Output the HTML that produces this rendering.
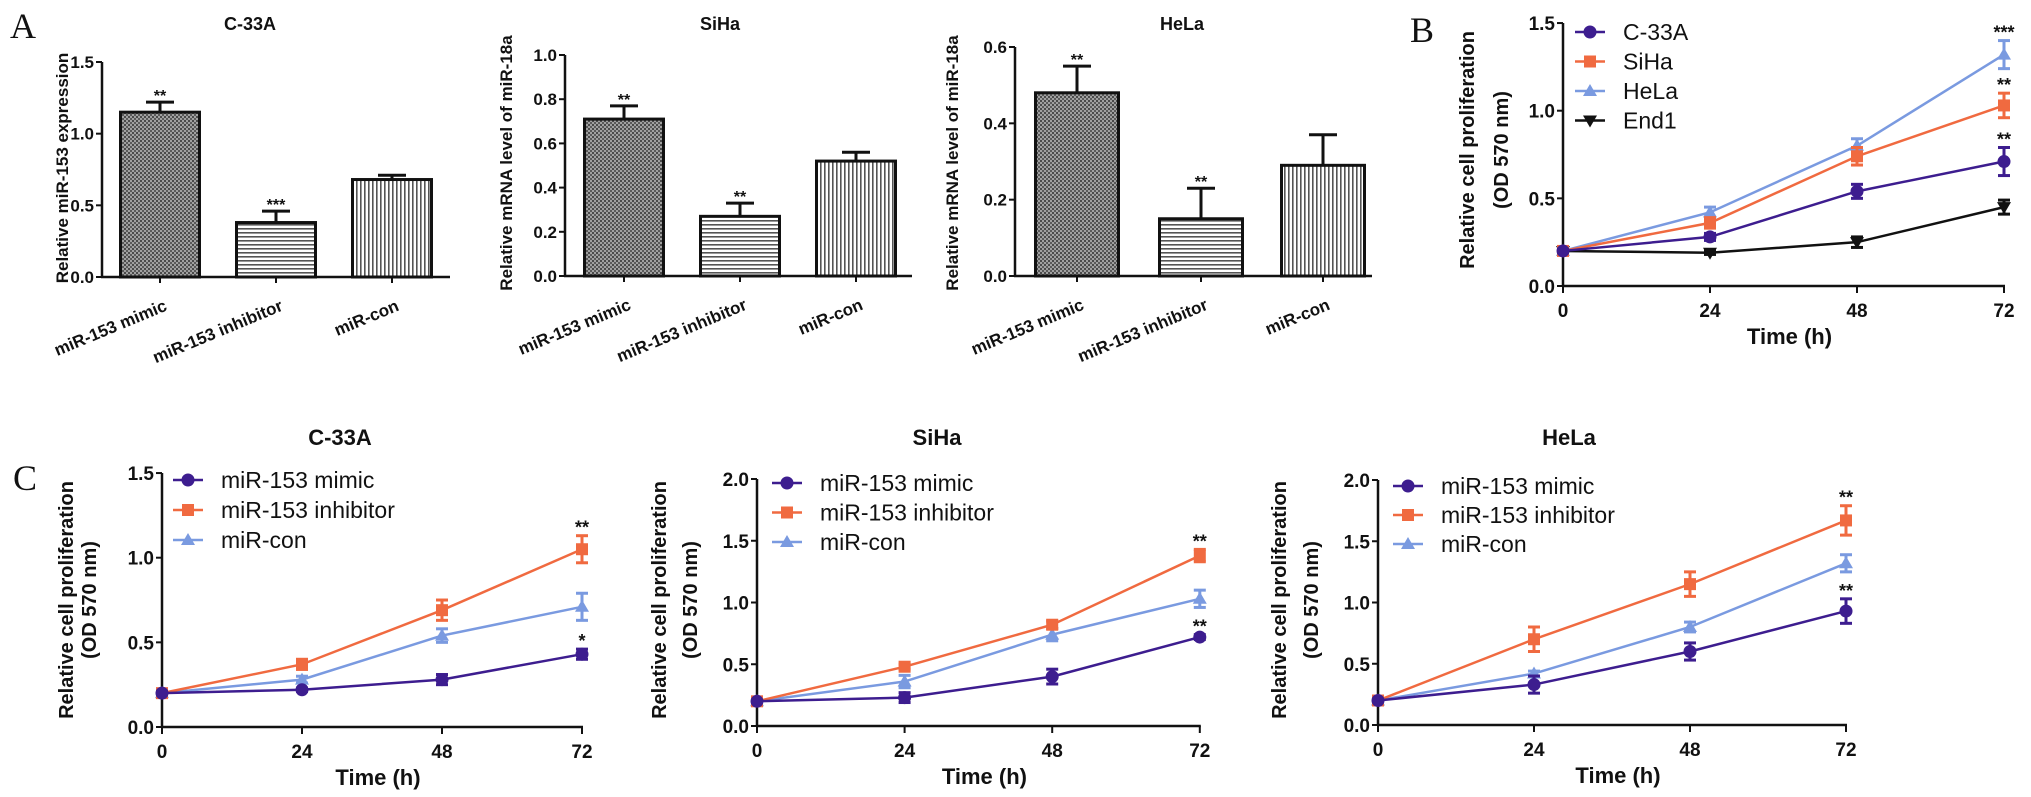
<!DOCTYPE html>
<html><head><meta charset="utf-8"><style>
html,body{margin:0;padding:0;background:#fff;}
svg{display:block;font-family:"Liberation Sans",Arial,sans-serif;}
</style></head><body>
<svg id="fig" width="2031" height="797" viewBox="0 0 2031 797" xmlns="http://www.w3.org/2000/svg">
<defs>
<pattern id="pDots" width="4" height="4" patternUnits="userSpaceOnUse"><rect width="4" height="4" fill="#a0a0a0"/><rect width="2" height="2" fill="#4a4a4a"/><rect x="2" y="2" width="2" height="2" fill="#5a5a5a"/></pattern>
<pattern id="pH" width="4" height="4" patternUnits="userSpaceOnUse"><rect width="4" height="4" fill="#fff"/><rect y="0" width="4" height="1.6" fill="#555"/></pattern>
<pattern id="pV" width="4" height="4" patternUnits="userSpaceOnUse"><rect width="4" height="4" fill="#fff"/><rect x="0" width="1.6" height="4" fill="#555"/></pattern>
</defs>
</svg>
<script>
// ---------- Panel A data ----------
const barCategories = ["miR-153 mimic", "miR-153 inhibitor", "miR-con"];
const aC33AValues = [1.15, 0.38, 0.68];
const aC33AErrors = [0.07, 0.08, 0.03];
const aC33AStars = ["**", "***", ""];
const aSiHaValues = [0.71, 0.27, 0.52];
const aSiHaErrors = [0.06, 0.06, 0.04];
const aSiHaStars = ["**", "**", ""];
const aHeLaValues = [0.48, 0.15, 0.29];
const aHeLaErrors = [0.07, 0.08, 0.08];
const aHeLaStars = ["**", "**", ""];
const aC33ATicks = [0, 0.5, 1.0, 1.5];
const aSiHaTicks = [0, 0.2, 0.4, 0.6, 0.8, 1.0];
const aHeLaTicks = [0, 0.2, 0.4, 0.6];
// ---------- Panel B data ----------
const timePoints = [0, 24, 48, 72];
const bC33A = [0.2, 0.28, 0.54, 0.71];
const bC33AErr = [0.01, 0.02, 0.04, 0.08];
const bSiHa = [0.2, 0.36, 0.74, 1.03];
const bSiHaErr = [0.01, 0.03, 0.05, 0.07];
const bHeLa = [0.2, 0.42, 0.80, 1.32];
const bHeLaErr = [0.01, 0.03, 0.04, 0.08];
const bEnd1 = [0.2, 0.19, 0.25, 0.45];
const bEnd1Err = [0.01, 0.01, 0.03, 0.04];
const bTicks = [0, 0.5, 1.0, 1.5];
// ---------- Panel C data ----------
const cC33AMimic = [0.2, 0.22, 0.28, 0.43];
const cC33AMimicErr = [0.01, 0.01, 0.03, 0.03];
const cC33AInhib = [0.2, 0.37, 0.69, 1.05];
const cC33AInhibErr = [0.01, 0.03, 0.06, 0.08];
const cC33ACon = [0.2, 0.28, 0.54, 0.71];
const cC33AConErr = [0.01, 0.02, 0.04, 0.08];
const cSiHaMimic = [0.2, 0.23, 0.40, 0.72];
const cSiHaMimicErr = [0.01, 0.04, 0.06, 0.02];
const cSiHaInhib = [0.2, 0.48, 0.82, 1.38];
const cSiHaInhibErr = [0.01, 0.02, 0.03, 0.05];
const cSiHaCon = [0.2, 0.36, 0.74, 1.03];
const cSiHaConErr = [0.01, 0.05, 0.05, 0.07];
const cHeLaMimic = [0.2, 0.33, 0.60, 0.93];
const cHeLaMimicErr = [0.01, 0.07, 0.07, 0.10];
const cHeLaInhib = [0.2, 0.70, 1.15, 1.67];
const cHeLaInhibErr = [0.01, 0.10, 0.10, 0.12];
const cHeLaCon = [0.2, 0.42, 0.80, 1.32];
const cHeLaConErr = [0.01, 0.02, 0.04, 0.07];
const cTicks15 = [0, 0.5, 1.0, 1.5];
const cTicks20 = [0, 0.5, 1.0, 1.5, 2.0];

const NS = "http://www.w3.org/2000/svg";
const svg = document.getElementById("fig");
const FONT = '"Liberation Sans", Arial, sans-serif';

function mk(parent, tag, attrs, name, inter) {
  const el = document.createElementNS(NS, tag);
  for (const k in attrs) el.setAttribute(k, attrs[k]);
  
  
  parent.appendChild(el);
  return el;
}
function txt(parent, x, y, s, size, opts, name) {
  const o = Object.assign({x: x, y: y, "font-size": size, "font-family": FONT, fill: "#111"}, opts || {});
  const t = mk(parent, "text", o, name, false);
  t.textContent = s;
  return t;
}

// panel letters
txt(svg, 10, 38, "A", 36, {"font-family": '"Liberation Serif", serif'}, "panel-label-a");
txt(svg, 1410, 42, "B", 36, {"font-family": '"Liberation Serif", serif'}, "panel-label-b");
txt(svg, 13, 490, "C", 36, {"font-family": '"Liberation Serif", serif'}, "panel-label-c");

function barChart(cfg) {
  const g = mk(svg, "g", {}, cfg.id, false);
  const yMax = cfg.ticks[cfg.ticks.length - 1];
  const Y = v => cfg.base - (cfg.base - cfg.top) * v / yMax;
  txt(g, cfg.titleX, 30, cfg.title, 18, {"font-weight": "bold", "text-anchor": "middle"}, "chart-title");
  txt(g, 0, 0, cfg.ylabel, 17, {"font-weight": "bold", "text-anchor": "middle", transform: `translate(${cfg.ylabX},${cfg.ylabY}) rotate(-90)`}, "y-axis-title");
  cfg.values.forEach((v, i) => {
    const cx = cfg.centers[i];
    const fill = ["url(#pDots)", "url(#pH)", "url(#pV)"][i];
    mk(g, "rect", {x: cx - cfg.barW / 2, y: Y(v), width: cfg.barW, height: cfg.base - Y(v), fill: fill, stroke: "#111", "stroke-width": 3}, "bar-" + barCategories[i].replace(/ /g, "-").toLowerCase(), false);
    const et = Y(v + cfg.errs[i]);
    mk(g, "line", {x1: cx, x2: cx, y1: Y(v), y2: et, stroke: "#111", "stroke-width": 3}, "error-bar", false);
    mk(g, "line", {x1: cx - 14, x2: cx + 14, y1: et, y2: et, stroke: "#111", "stroke-width": 3}, "error-cap", false);
    if (cfg.stars[i]) txt(g, cx, et - 1, cfg.stars[i], 16, {"font-weight": "bold", "text-anchor": "middle"}, "significance-mark");
    mk(g, "line", {x1: cx, x2: cx, y1: cfg.base, y2: cfg.base + 6, stroke: "#111", "stroke-width": 2}, "x-tick", false);
    const lx = cx + 8, ly = cfg.base + 33;
    txt(g, lx, ly, barCategories[i], 17, {"font-weight": "bold", "text-anchor": "end", transform: `rotate(-22.6 ${lx} ${ly})`}, "x-tick-label");
  });
  mk(g, "line", {x1: cfg.ax, x2: cfg.ax, y1: cfg.top, y2: cfg.base + 1, stroke: "#111", "stroke-width": 2.5}, "y-axis", false);
  mk(g, "line", {x1: cfg.ax - 1, x2: cfg.xEnd, y1: cfg.base, y2: cfg.base, stroke: "#111", "stroke-width": 2.5}, "x-axis", false);
  cfg.ticks.forEach(t => {
    mk(g, "line", {x1: cfg.ax - 6, x2: cfg.ax, y1: Y(t), y2: Y(t), stroke: "#111", "stroke-width": 2}, "y-tick", false);
    txt(g, cfg.ax - 8, Y(t) + 6, t.toFixed(1), 17, {"font-weight": "bold", "text-anchor": "end"}, "y-tick-label");
  });
}

barChart({id: "chart-a-c33a", ax: 102, base: 277, top: 62, ticks: aC33ATicks, centers: [160, 276, 392], barW: 79, values: aC33AValues, errs: aC33AErrors, stars: aC33AStars, title: "C-33A", titleX: 250, ylabel: "Relative miR-153 expression", ylabX: 68, ylabY: 168, xEnd: 450});
barChart({id: "chart-a-siha", ax: 565, base: 276, top: 55, ticks: aSiHaTicks, centers: [624, 740, 856], barW: 79, values: aSiHaValues, errs: aSiHaErrors, stars: aSiHaStars, title: "SiHa", titleX: 720, ylabel: "Relative mRNA level of miR-18a", ylabX: 512, ylabY: 163, xEnd: 912});
barChart({id: "chart-a-hela", ax: 1015, base: 276, top: 47, ticks: aHeLaTicks, centers: [1077, 1201, 1323], barW: 83, values: aHeLaValues, errs: aHeLaErrors, stars: aHeLaStars, title: "HeLa", titleX: 1182, ylabel: "Relative mRNA level of miR-18a", ylabX: 958, ylabY: 163, xEnd: 1372});

function marker(g, type, x, y, color, name) {
  if (type === "circle") return mk(g, "circle", {cx: x, cy: y, r: 6.5, fill: color}, name, false);
  if (type === "square") return mk(g, "rect", {x: x - 6, y: y - 6, width: 12, height: 12, fill: color}, name, false);
  if (type === "tri") return mk(g, "polygon", {points: `${x},${y - 7} ${x - 7},${y + 5} ${x + 7},${y + 5}`, fill: color}, name, false);
  return mk(g, "polygon", {points: `${x},${y + 7} ${x - 7},${y - 5} ${x + 7},${y - 5}`, fill: color}, name, false);
}

function lineChart(cfg) {
  const g = mk(svg, "g", {}, cfg.id, false);
  const yMax = cfg.ticks[cfg.ticks.length - 1];
  const Y = v => cfg.base - cfg.pxUnit * v;
  const X = t => cfg.ax + cfg.pxHour * t;
  if (cfg.title) txt(g, cfg.titleX, 445, cfg.title, 22, {"font-weight": "bold", "text-anchor": "middle"}, "chart-title");
  const ylY = cfg.ylabY;
  txt(g, 0, 0, "Relative cell proliferation", 20, {"font-weight": "bold", "text-anchor": "middle", transform: `translate(${cfg.ylabX1 + 8},${ylY}) rotate(-90)`}, "y-axis-title");
  txt(g, 0, 0, "(OD 570 nm)", 20, {"font-weight": "bold", "text-anchor": "middle", transform: `translate(${cfg.ylabX2 + 8},${ylY}) rotate(-90)`}, "y-axis-title-unit");
  mk(g, "line", {x1: cfg.ax, x2: cfg.ax, y1: Y(yMax), y2: cfg.base + 1, stroke: "#111", "stroke-width": 2.5}, "y-axis", false);
  mk(g, "line", {x1: cfg.ax - 1, x2: X(72) + 1, y1: cfg.base, y2: cfg.base, stroke: "#111", "stroke-width": 2.5}, "x-axis", false);
  cfg.ticks.forEach(t => {
    mk(g, "line", {x1: cfg.ax - 6, x2: cfg.ax, y1: Y(t), y2: Y(t), stroke: "#111", "stroke-width": 2}, "y-tick", false);
    txt(g, cfg.ax - 8, Y(t) + 7, t.toFixed(1), 19, {"font-weight": "bold", "text-anchor": "end"}, "y-tick-label");
  });
  timePoints.forEach(t => {
    mk(g, "line", {x1: X(t), x2: X(t), y1: cfg.base, y2: cfg.base + 7, stroke: "#111", "stroke-width": 2}, "x-tick", false);
    txt(g, X(t), cfg.base + 31, String(t), 19, {"font-weight": "bold", "text-anchor": "middle"}, "x-tick-label");
  });
  txt(g, (X(0) + X(72)) / 2 + 6, cfg.base + 58, "Time (h)", 22, {"font-weight": "bold", "text-anchor": "middle"}, "x-axis-title");
  cfg.series.slice().reverse().forEach(s => {
    const pts = s.vals.map((v, i) => X(timePoints[i]) + "," + Y(v)).join(" ");
    mk(g, "polyline", {points: pts, fill: "none", stroke: s.color, "stroke-width": 2.5}, "line-" + s.key, false);
    s.vals.forEach((v, i) => {
      const x = X(timePoints[i]);
      const e = s.errs[i];
      mk(g, "line", {x1: x, x2: x, y1: Y(v - e), y2: Y(v + e), stroke: s.color, "stroke-width": 3}, "error-bar", false);
      mk(g, "line", {x1: x - 6, x2: x + 6, y1: Y(v + e), y2: Y(v + e), stroke: s.color, "stroke-width": 3}, "error-cap", false);
      mk(g, "line", {x1: x - 6, x2: x + 6, y1: Y(v - e), y2: Y(v - e), stroke: s.color, "stroke-width": 3}, "error-cap", false);
      marker(g, s.marker, x, Y(v), s.color, "point-" + s.key);
    });
    if (s.star) {
      const last = s.vals.length - 1;
      txt(g, X(72), Y(s.vals[last] + s.errs[last]) - 2, s.star, 18, {"font-weight": "bold", "text-anchor": "middle"}, "significance-mark");
    }
  });
  cfg.series.forEach((s, i) => {
    const ly = cfg.legY + i * cfg.legDy;
    const lg = mk(g, "g", {}, "legend-entry", false);
    mk(lg, "line", {x1: cfg.legX, x2: cfg.legX + 30, y1: ly, y2: ly, stroke: s.color, "stroke-width": 2.5}, "legend-line", false);
    marker(lg, s.marker, cfg.legX + 15, ly, s.color, "legend-marker");
    txt(lg, cfg.legX + 48, ly + 8, s.label, 23, {}, "legend-label");
  });
}

const PURPLE = "#3d1d8f", ORANGE = "#f06a40", BLUE = "#7a9ae0", BLACK = "#111";

lineChart({id: "chart-b", ax: 1563, base: 286, pxUnit: 175.3, pxHour: 147 / 24, ticks: bTicks,
  ylabX1: 1466, ylabX2: 1500, ylabY: 150, legX: 1575, legY: 32, legDy: 29.5,
  series: [
    {key: "c33a", label: "C-33A", vals: bC33A, errs: bC33AErr, color: PURPLE, marker: "circle", star: "**"},
    {key: "siha", label: "SiHa", vals: bSiHa, errs: bSiHaErr, color: ORANGE, marker: "square", star: "**"},
    {key: "hela", label: "HeLa", vals: bHeLa, errs: bHeLaErr, color: BLUE, marker: "tri", star: "***"},
    {key: "end1", label: "End1", vals: bEnd1, errs: bEnd1Err, color: BLACK, marker: "tridown"}
  ]});

lineChart({id: "chart-c-c33a", ax: 162, base: 727, pxUnit: 169.3, pxHour: 140 / 24, ticks: cTicks15, title: "C-33A", titleX: 340,
  ylabX1: 65, ylabX2: 88, ylabY: 600, legX: 173, legY: 480, legDy: 30,
  series: [
    {key: "mimic", label: "miR-153 mimic", vals: cC33AMimic, errs: cC33AMimicErr, color: PURPLE, marker: "circle", star: "*"},
    {key: "inhibitor", label: "miR-153 inhibitor", vals: cC33AInhib, errs: cC33AInhibErr, color: ORANGE, marker: "square", star: "**"},
    {key: "con", label: "miR-con", vals: cC33ACon, errs: cC33AConErr, color: BLUE, marker: "tri"}
  ]});

lineChart({id: "chart-c-siha", ax: 757, base: 726, pxUnit: 123.5, pxHour: 147.6 / 24, ticks: cTicks20, title: "SiHa", titleX: 937,
  ylabX1: 658, ylabX2: 689, ylabY: 600, legX: 772, legY: 483, legDy: 29.5,
  series: [
    {key: "mimic", label: "miR-153 mimic", vals: cSiHaMimic, errs: cSiHaMimicErr, color: PURPLE, marker: "circle", star: "**"},
    {key: "inhibitor", label: "miR-153 inhibitor", vals: cSiHaInhib, errs: cSiHaInhibErr, color: ORANGE, marker: "square", star: "**"},
    {key: "con", label: "miR-con", vals: cSiHaCon, errs: cSiHaConErr, color: BLUE, marker: "tri"}
  ]});

lineChart({id: "chart-c-hela", ax: 1378, base: 725, pxUnit: 122.5, pxHour: 156 / 24, ticks: cTicks20, title: "HeLa", titleX: 1569,
  ylabX1: 1278, ylabX2: 1310, ylabY: 600, legX: 1393, legY: 486, legDy: 29,
  series: [
    {key: "mimic", label: "miR-153 mimic", vals: cHeLaMimic, errs: cHeLaMimicErr, color: PURPLE, marker: "circle", star: "**"},
    {key: "inhibitor", label: "miR-153 inhibitor", vals: cHeLaInhib, errs: cHeLaInhibErr, color: ORANGE, marker: "square", star: "**"},
    {key: "con", label: "miR-con", vals: cHeLaCon, errs: cHeLaConErr, color: BLUE, marker: "tri"}
  ]});
</script>
</body></html>
